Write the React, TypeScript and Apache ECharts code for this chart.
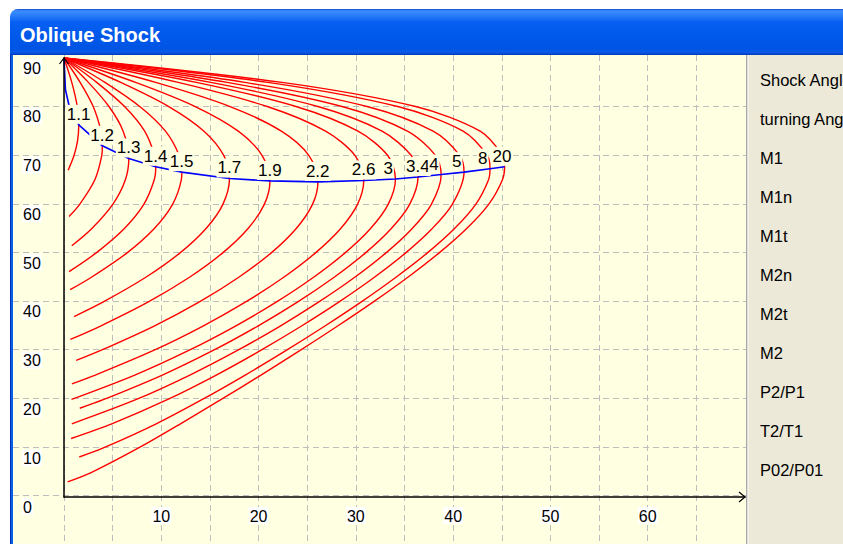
import React, { useEffect, useRef } from "react";
import * as echarts from "echarts";

const FONT = "'Liberation Sans', Arial, sans-serif";

// Mach numbers of the curves (labels)
const machNumbers = ["1.1", "1.2", "1.3", "1.4", "1.5", "1.7", "1.9", "2.2", "2.6", "3", "3.4", "4", "5", "8", "20"];

// Each curve: [turning angle (deg), shock angle (deg)]
const curveM1_1 = [[0.43, 67], [1.03, 70], [1.39, 73], [1.52, 76.3], [1.37, 80], [0.8, 85], [0, 90]];
const curveM1_2 = [[0.52, 57.5], [1.61, 60], [3.16, 65], [3.88, 70], [3.94, 72.0], [3.8, 75], [3.01, 80], [1.66, 85], [0, 90]];
const curveM1_3 = [[0.8, 51.5], [2.84, 55], [5.01, 60], [6.3, 65], [6.66, 69.4], [6.08, 75], [4.64, 80], [2.51, 85], [0, 90]];
const curveM1_4 = [[0.52, 46.2], [3.28, 50], [6.18, 55], [8.2, 60], [9.27, 65], [9.43, 67.7], [9.32, 70], [8.29, 75], [6.25, 80], [3.36, 85], [0, 90]];
const curveM1_5 = [[0.63, 42.5], [2.78, 45], [6.45, 50], [9.26, 55], [11.16, 60], [12.06, 65], [12.11, 66.6], [11.84, 70], [10.43, 75], [7.82, 80], [4.21, 85], [0, 90]];
const curveM1_7 = [[1.04, 37], [4.04, 40], [8.37, 45], [11.9, 50], [14.58, 55], [16.33, 60], [17.01, 65.3], [16.43, 70], [14.39, 75], [10.81, 80], [5.83, 85], [0, 90]];
const curveM1_9 = [[0.65, 32.3], [3.7, 35], [8.67, 40], [12.86, 45], [16.28, 50], [18.9, 55], [20.59, 60], [21.17, 64.8], [20.37, 70], [17.91, 75], [13.54, 80], [7.36, 85], [0, 90]];
const curveM2_2 = [[1.25, 28], [3.72, 30], [9.21, 35], [13.92, 40], [17.93, 45], [21.27, 50], [23.85, 55], [25.54, 60], [26.1, 64.6], [25.18, 70], [22.34, 75], [17.13, 80], [9.42, 85], [0, 90]];
const curveM2_6 = [[0.81, 23.2], [3.22, 25], [9.15, 30], [14.24, 35], [18.68, 40], [22.55, 45], [25.82, 50], [28.42, 55], [30.17, 60], [30.81, 64.9], [29.92, 70], [26.89, 75], [20.97, 80], [11.74, 85], [0, 90]];
const curveM3 = [[0.77, 20], [7.28, 25], [12.77, 30], [17.58, 35], [21.85, 40], [25.62, 45], [28.86, 50], [31.49, 55], [33.32, 60], [34.07, 65.2], [33.28, 70], [30.22, 75], [23.93, 80], [13.6, 85], [0, 90]];
const curveM3_4 = [[1.62, 18.2], [4.1, 20], [10.11, 25], [15.28, 30], [19.88, 35], [24.03, 40], [27.73, 45], [30.96, 50], [33.62, 55], [35.53, 60], [36.39, 65.6], [35.7, 70], [32.69, 75], [26.19, 80], [15.08, 85], [0, 90]];
const curveM4 = [[0.8, 15], [7.44, 20], [12.94, 25], [17.78, 30], [22.18, 35], [26.2, 40], [29.85, 45], [33.07, 50], [35.77, 55], [37.76, 60], [38.77, 66.1], [38.2, 70], [35.3, 75], [28.67, 80], [16.76, 85], [0, 90]];
const curveM5 = [[0.73, 12], [4.91, 15], [10.67, 20], [15.65, 25], [20.17, 30], [24.37, 35], [28.28, 40], [31.87, 45], [35.09, 50], [37.83, 55], [39.91, 60], [41.12, 66.6], [40.68, 70], [37.94, 75], [31.25, 80], [18.6, 85], [0, 90]];
const curveM8 = [[1.57, 8.2], [3.98, 10], [9.48, 15], [14.22, 20], [18.63, 25], [22.8, 30], [26.78, 35], [30.56, 40], [34.09, 45], [37.32, 50], [40.12, 55], [42.32, 60], [43.63, 65], [43.79, 67.3], [43.51, 70], [41.02, 75], [34.4, 80], [20.95, 85], [0, 90]];
const curveM20 = [[0.37, 3.1], [2.79, 5], [7.62, 10], [11.97, 15], [16.16, 20], [20.25, 25], [24.23, 30], [28.09, 35], [31.8, 40], [35.31, 45], [38.53, 50], [41.37, 55], [43.65, 60], [45.06, 65], [45.29, 67.7], [45.09, 70], [42.78, 75], [36.25, 80], [22.4, 85], [0, 90]];

const curves = [curveM1_1, curveM1_2, curveM1_3, curveM1_4, curveM1_5, curveM1_7, curveM1_9, curveM2_2, curveM2_6, curveM3, curveM3_4, curveM4, curveM5, curveM8, curveM20];

// Maximum turning angle point of each curve (blue locus)
const maxTheta = [1.52, 3.94, 6.66, 9.43, 12.11, 17.01, 21.17, 26.1, 30.81, 34.07, 36.39, 38.77, 41.12, 43.79, 45.29];
const maxBeta = [76.3, 72.0, 69.4, 67.7, 66.6, 65.3, 64.8, 64.6, 64.9, 65.2, 65.6, 66.1, 66.6, 67.3, 67.7];
const locusStart = [[0, 90], [0.15, 83.5], [0.56, 79.9]];

// Axis tick labels
const xTickLabels = [10, 20, 30, 40, 50, 60];
const yTickLabels = [0, 10, 20, 30, 40, 50, 60, 70, 80, 90];

// Side panel labels
const panelLabels = ["Shock Angle", "turning Angle", "M1", "M1n", "M1t", "M2n", "M2t", "M2", "P2/P1", "T2/T1", "P02/P01"];

const CREAM = "#FFFFE1";
const GRIDLINE = { color: "#BDBDBD", width: 1, type: [6, 4] as any };

function buildOption() {
  const series: any[] = curves.map((c, i) => ({
    type: "line",
    name: "M" + machNumbers[i],
    data: c,
    showSymbol: false,
    symbol: "none",
    smooth: 0.3,
    silent: true,
    lineStyle: { color: "#FF0000", width: 1.4 },
    z: 2,
  }));

  series.push({
    type: "line",
    name: "locus",
    data: [...locusStart, ...maxTheta.map((t, i) => [t, maxBeta[i]])],
    showSymbol: false,
    symbol: "none",
    silent: true,
    lineStyle: { color: "#0000FF", width: 1.6 },
    z: 3,
  });

  series.push({
    type: "scatter",
    name: "labels",
    symbol: "rect",
    symbolSize: 2,
    silent: true,
    itemStyle: { color: "rgba(0,0,0,0)" },
    data: machNumbers.map((m, i) => ({ name: m, value: [maxTheta[i], maxBeta[i]] })),
    label: {
      show: true,
      position: [-12, -19],
      align: "left",
      verticalAlign: "top",
      formatter: "{b}",
      color: "#000000",
      opacity: 1,
      fontFamily: FONT,
      fontSize: 17,
      lineHeight: 17,
      backgroundColor: CREAM,
      padding: [1, 1, 1, 1],
    },
    labelLayout: { hideOverlap: false },
    z: 5,
  });

  const graphic: any[] = [
    {
      type: "rect",
      z: 100,
      shape: { x: 10, y: 9, width: 850, height: 46, r: [8, 8, 0, 0] },
      style: {
        fill: new echarts.graphic.LinearGradient(0, 0, 0, 1, [
          { offset: 0, color: "#1646C8" },
          { offset: 0.04, color: "#3B8FFF" },
          { offset: 0.14, color: "#2A7DF8" },
          { offset: 0.28, color: "#0760F2" },
          { offset: 0.6, color: "#0058EA" },
          { offset: 0.86, color: "#0054E3" },
          { offset: 0.94, color: "#0A5AE8" },
          { offset: 1, color: "#0038B8" },
        ]),
      },
      silent: true,
    },
    { type: "rect", z: 100, shape: { x: 10, y: 55, width: 1, height: 489 }, style: { fill: "#0031B5" }, silent: true },
    { type: "rect", z: 100, shape: { x: 11, y: 55, width: 2, height: 489 }, style: { fill: "#0A5EEA" }, silent: true },
    { type: "rect", z: 100, shape: { x: 746, y: 55, width: 97, height: 489 }, style: { fill: "#ECE9D8" }, silent: true },
    { type: "rect", z: 100, shape: { x: 746, y: 55, width: 1.5, height: 489 }, style: { fill: "#A8A8A8" }, silent: true },
    { type: "rect", z: 100, shape: { x: 747.5, y: 55, width: 1, height: 489 }, style: { fill: "#FAFAF5" }, silent: true },
    {
      type: "text",
      z: 101,
      x: 20,
      y: 35,
      silent: true,
      style: {
        text: "Oblique Shock",
        fill: "#FFFFFF",
        font: "bold 20px " + FONT,
        textAlign: "left",
        textVerticalAlign: "middle",
        align: "left",
        verticalAlign: "middle",
      },
    },
    {
      type: "polyline",
      z: 50,
      silent: true,
      shape: { points: [[739, 492], [745, 497], [739, 502]] },
      style: { stroke: "#000", lineWidth: 1.2, fill: null },
    },
    {
      type: "polyline",
      z: 50,
      silent: true,
      shape: { points: [[59.5, 64], [64, 58], [68.5, 64]] },
      style: { stroke: "#000", lineWidth: 1.2, fill: null },
    },
  ];

  panelLabels.forEach((t, i) => {
    graphic.push({
      type: "text",
      z: 101,
      x: 760,
      y: 80 + 39 * i,
      silent: true,
      style: {
        text: t,
        fill: "#000",
        font: "16.5px " + FONT,
        textAlign: "left",
        textVerticalAlign: "middle",
        align: "left",
        verticalAlign: "middle",
      },
    });
  });

  const xScale = 681 / 70;
  const yScale = 439 / 90;

  return {
    animation: false,
    backgroundColor: "transparent",
    grid: [
      { left: 13, top: 58 + 5 * yScale, width: 733, height: 95 * yScale, containLabel: false },
      { left: 64 - 5 * xScale, top: 55, width: 75 * xScale, height: 489, containLabel: false },
      { left: 64, top: 58, width: 681, height: 439, containLabel: false },
    ],
    xAxis: [
      {
        gridIndex: 0,
        type: "value",
        min: 0,
        max: 1,
        show: false,
      },
      {
        gridIndex: 1,
        type: "value",
        min: -5,
        max: 70,
        interval: 5,
        axisLine: { show: false },
        axisTick: { show: false },
        axisLabel: { show: false },
        splitLine: { show: true, showMinLine: false, showMaxLine: false, lineStyle: GRIDLINE },
        z: 0,
      },
      {
        gridIndex: 2,
        type: "value",
        min: 0,
        max: 70,
        interval: 10,
        z: 6,
        axisLine: { show: true, onZero: false, lineStyle: { color: "#000", width: 1.5 } },
        axisTick: { show: false },
        splitLine: { show: false },
        axisLabel: {
          show: true,
          margin: 10,
          showMinLabel: false,
          showMaxLabel: false,
          verticalAlign: "top",
          formatter: (v: number) => (xTickLabels.indexOf(v) >= 0 ? `{b|${v}}` : ""),
          rich: {
            b: { backgroundColor: "#FFFFFF", padding: [1, 1, 0, 1], fontSize: 16, lineHeight: 17, fontFamily: FONT, color: "#000" },
          },
        },
      },
    ],
    yAxis: [
      {
        gridIndex: 0,
        type: "value",
        min: -10,
        max: 85,
        interval: 10,
        axisLine: { show: false },
        axisTick: { show: false },
        axisLabel: { show: false },
        splitLine: { show: true, showMinLine: false, showMaxLine: false, lineStyle: GRIDLINE },
        z: 0,
      },
      {
        gridIndex: 1,
        type: "value",
        min: 0,
        max: 1,
        show: false,
      },
      {
        gridIndex: 2,
        type: "value",
        min: 0,
        max: 90,
        interval: 10,
        z: 6,
        axisLine: { show: true, onZero: false, lineStyle: { color: "#000", width: 1.5 } },
        axisTick: { show: false },
        splitLine: { show: false },
        axisLabel: {
          show: true,
          margin: 42,
          align: "left",
          verticalAlign: "top",
          padding: [1, 0, 0, 0],
          formatter: (v: number) => (yTickLabels.indexOf(v) >= 0 ? `{b|${v}}` : ""),
          rich: {
            b: { backgroundColor: "#FFFFFF", padding: [1, 1, 0, 1], fontSize: 16, lineHeight: 17, fontFamily: FONT, color: "#000" },
          },
        },
      },
    ],
    series: series.map((s) => ({ ...s, xAxisIndex: 2, yAxisIndex: 2 })),
    graphic,
  };
}

export default function App() {
  const ref = useRef<HTMLDivElement>(null);
  useEffect(() => {
    if (!ref.current) return;
    const chart = echarts.init(ref.current, null, { renderer: "svg" });
    chart.setOption(buildOption() as any);
    return () => chart.dispose();
  }, []);
  return (
    <div style={{ position: "fixed", left: 0, top: 0, width: 843, height: 544, background: "#FFFFFF", overflow: "hidden" }}>
      <div style={{ position: "absolute", left: 13, top: 55, width: 733, height: 489, background: CREAM }} />
      <div ref={ref} style={{ position: "absolute", left: 0, top: 0, width: 843, height: 544 }} />
    </div>
  );
}
